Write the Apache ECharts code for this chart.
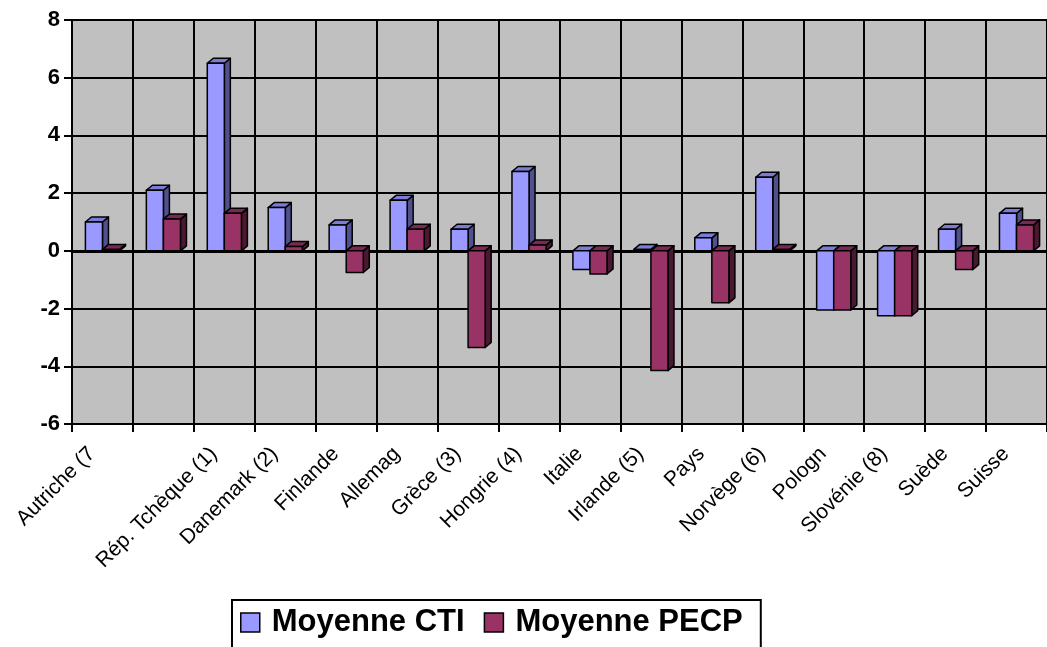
<!DOCTYPE html>
<html>
<head>
<meta charset="utf-8">
<script src="https://cdn.jsdelivr.net/npm/echarts@6/dist/echarts.min.js"></script>
<style>
	html, body { margin: 0; padding: 0; background: #fff; }
	#chart_box { width: 1047px; height: 647px; }
</style>
</head>
<body>
<div id="chart_box"></div>
<script type="text/javascript">
var categories = ['Autriche (7', '', 'Rép. Tchèque (1)', 'Danemark (2)', 'Finlande', 'Allemag',
	'Grèce (3)', 'Hongrie (4)', 'Italie', 'Irlande (5)', 'Pays', 'Norvège (6)', 'Pologn',
	'Slovénie (8)', 'Suède', 'Suisse'];
var seriesNames = ['Moyenne CTI', 'Moyenne PECP'];
var cti = [1.0, 2.1, 6.5, 1.5, 0.9, 1.75, 0.75, 2.75, -0.65, 0.05, 0.45, 2.55, -2.05, -2.25, 0.75, 1.3];
var pecp = [0.05, 1.1, 1.3, 0.15, -0.75, 0.75, -3.35, 0.2, -0.8, -4.15, -1.8, 0.05, -2.05, -2.25, -0.65, 0.9];
var yTicks = [-6, -4, -2, 0, 2, 4, 6, 8];

var faces = [
	{ front: '#9999FF', top: '#7C7CD6', side: '#50508F' },
	{ front: '#993366', top: '#7A2952', side: '#4A1830' }
];

function makeRender(idx) {
	return function (params, api) {
		var ci = api.value(0), v = api.value(1);
		var p0 = api.coord([ci, 0]), p1 = api.coord([ci, v]);
		var bw = api.size([1, 0])[0];
		var w = bw * 0.28;
		var x = p0[0] + (idx === 0 ? -w : 0);
		var yTop = Math.min(p0[1], p1[1]), yBot = Math.max(p0[1], p1[1]);
		var dx = 6, dy = -5;
		var c = faces[idx];
		var line = { stroke: '#000', lineWidth: 1.5, lineJoin: 'round' };
		return {
			type: 'group',
			children: [
				{ type: 'polygon', shape: { points: [[x + w, yTop], [x + w + dx, yTop + dy], [x + w + dx, yBot + dy], [x + w, yBot]] },
					style: Object.assign({ fill: c.side }, line) },
				{ type: 'polygon', shape: { points: [[x, yTop], [x + dx, yTop + dy], [x + w + dx, yTop + dy], [x + w, yTop]] },
					style: Object.assign({ fill: c.top }, line) },
				{ type: 'rect', shape: { x: x, y: yTop, width: w, height: yBot - yTop },
					style: Object.assign({ fill: c.front }, line) }
			]
		};
	};
}

function toData(arr) {
	return arr.map(function (v, i) { return [i, v]; });
}

var myChart = echarts.init(document.getElementById('chart_box'));
var option = {
	animation: false,
	grid: {
		left: 72, right: 0, top: 20, bottom: 223,
		show: true, backgroundColor: '#C0C0C0', borderColor: '#808080', borderWidth: 0
	},
	legend: {
		data: seriesNames,
		left: 232, top: 600,
		icon: 'rect',
		itemWidth: 19, itemHeight: 19,
		itemGap: 19,
		padding: [7, 18, 20, 8],
		borderColor: '#000', borderWidth: 2,
		itemStyle: { borderColor: '#000', borderWidth: 1.5 },
		textStyle: { fontFamily: 'Liberation Sans, Arial', fontWeight: 'bold', fontSize: 31, color: '#000', padding: [0, 0, 0, 7] }
	},
	xAxis: [{
		type: 'category',
		data: categories,
		position: 'bottom',
		axisLine: { onZero: false, lineStyle: { color: '#000', width: 2 } },
		axisTick: { show: true, interval: 0, length: 8, lineStyle: { color: '#000', width: 2 } },
		splitLine: { show: true, interval: 0, lineStyle: { color: '#000', width: 2 } },
		axisLabel: {
			interval: 0, rotate: 45, margin: 16,
			padding: [0, 15, 0, 0],
			fontFamily: 'Liberation Sans, Arial', fontSize: 21, color: '#000'
		}
	}, {
		type: 'category',
		data: categories,
		position: 'bottom',
		axisLine: { onZero: true, lineStyle: { color: '#000', width: 3 } },
		axisTick: { show: true, interval: 0, length: 7, lineStyle: { color: '#000', width: 2 } },
		axisLabel: { show: false },
		splitLine: { show: false }
	}],
	yAxis: {
		type: 'value',
		min: yTicks[0], max: yTicks[yTicks.length - 1], interval: 2,
		axisLine: { show: true, lineStyle: { color: '#000', width: 2 } },
		axisTick: { show: true, length: 8, lineStyle: { color: '#000', width: 2 } },
		splitLine: { show: true, lineStyle: { color: '#000', width: 2 } },
		axisLabel: {
			margin: 12,
			fontFamily: 'Liberation Sans, Arial', fontWeight: 'bold', fontSize: 22, color: '#000'
		}
	},
	series: [0, 1].map(function (idx) {
		return {
			name: seriesNames[idx],
			type: 'custom',
			xAxisIndex: 0,
			clip: false,
			z: 3 + idx,
			itemStyle: { color: faces[idx].front },
			encode: { x: 0, y: 1 },
			renderItem: makeRender(idx),
			data: toData(idx === 0 ? cti : pecp)
		};
	})
};
myChart.setOption(option);
</script>
</body>
</html>
